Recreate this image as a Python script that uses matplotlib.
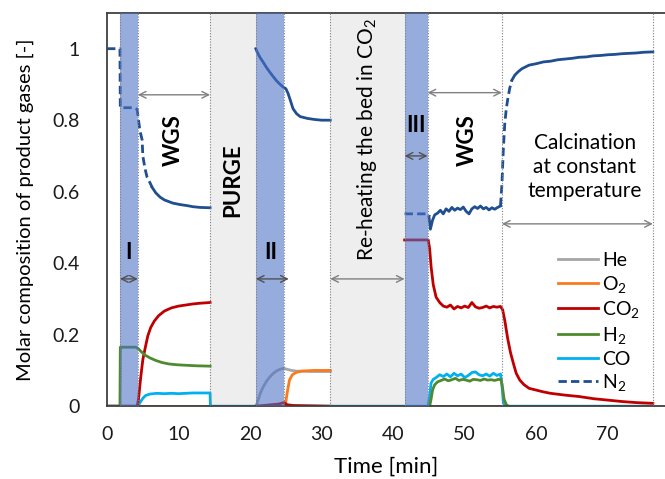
import matplotlib.pyplot as plt

plt.rcParams['font.family'] = ['Lato', 'DejaVu Sans']
plt.rcParams['mathtext.default'] = 'regular'

# Step boundaries [min]
t_I = (1.8, 4.3)
t_wgs1_end = 14.4
t_II = (20.8, 24.7)
t_reheat = 31.2
t_III = (41.6, 44.8)
t_wgs2_end = 55.2
t_calc_end = 76.3

# N2 (dashed parts = transitions, solid parts = steady WGS / purge response)
n2_d1_t = [0.0, 1.8, 1.85, 3.9, 4.2, 4.4, 4.6, 4.9, 5.0, 5.3, 5.6, 6.0, 6.3]
n2_d1_y = [1.0, 1.0, 0.835, 0.835, 0.83, 0.80, 0.77, 0.745, 0.70, 0.665, 0.64, 0.625, 0.612]
n2_s1_t = [6.3, 6.8, 7.4, 8.0, 9.2, 10.2, 11.2, 12.0, 13.0, 14.4]
n2_s1_y = [0.612, 0.597, 0.585, 0.577, 0.568, 0.564, 0.561, 0.558, 0.556, 0.555]
n2_s2_t = [20.8, 21.0, 21.4, 21.8, 22.3, 22.8, 23.3, 23.7, 24.2, 24.6, 25.0, 25.3,
           25.6, 26.0, 26.5, 27.0, 28.0, 29.0, 30.0, 31.2]
n2_s2_y = [1.0, 0.99, 0.975, 0.963, 0.947, 0.933, 0.92, 0.91, 0.90, 0.893, 0.888, 0.875,
           0.857, 0.832, 0.818, 0.81, 0.805, 0.802, 0.80, 0.80]
n2_d2_t = [41.6, 44.8, 45.1]
n2_d2_y = [0.538, 0.538, 0.53]
n2_s3_t = [45.0, 45.2, 45.5, 45.8, 46.2, 46.6, 47.0, 47.4, 47.8, 48.2, 48.6, 49.0, 49.4,
           49.8, 50.2, 50.6, 51.0, 51.4, 51.8, 52.2, 52.6, 53.0, 53.4, 53.8, 54.2, 54.6, 55.0]
n2_s3_y = [0.53, 0.495, 0.52, 0.535, 0.54, 0.548, 0.538, 0.552, 0.545, 0.556, 0.548, 0.554,
           0.55, 0.557, 0.545, 0.538, 0.552, 0.558, 0.553, 0.56, 0.552, 0.556, 0.549, 0.555,
           0.551, 0.556, 0.56]
n2_d3_t = [55.0, 55.2, 55.4, 55.6, 55.8, 56.0, 56.3, 56.6]
n2_d3_y = [0.56, 0.62, 0.72, 0.79, 0.83, 0.857, 0.89, 0.912]
n2_s4_t = [56.6, 57.0, 57.5, 58.0, 58.5, 59.0, 60.0, 61.0, 62.0, 63.0, 64.0, 65.0, 66.0,
           67.0, 68.0, 69.0, 70.0, 71.0, 72.0, 73.0, 74.0, 75.0, 76.3]
n2_s4_y = [0.912, 0.926, 0.936, 0.944, 0.949, 0.954, 0.958, 0.963, 0.965, 0.969, 0.971,
           0.973, 0.976, 0.977, 0.980, 0.981, 0.983, 0.984, 0.986, 0.987, 0.988, 0.990, 0.991]

# CO2
co2_1_t = [0.0, 4.2, 4.4, 4.7, 5.0, 5.3, 5.7, 6.1, 6.6, 7.2, 8.0, 9.0, 10.0, 11.0, 12.0,
           13.0, 14.4]
co2_1_y = [0.0, 0.0, 0.02, 0.08, 0.13, 0.16, 0.197, 0.22, 0.238, 0.253, 0.266, 0.275,
           0.28, 0.283, 0.286, 0.288, 0.29]
co2_2_t = [20.8, 24.0, 24.7, 25.2, 26.0, 31.2]
co2_2_y = [0.0, 0.006, 0.01, 0.004, 0.002, 0.0]
co2_3_t = [41.6, 44.9, 45.1, 45.3, 45.6, 46.0, 46.5, 47.0, 47.5, 48.0, 48.5, 49.0, 49.5,
           50.0, 50.5, 51.0, 51.5, 52.0, 52.5, 53.0, 53.5, 54.0, 54.5, 55.0, 55.3, 55.6,
           56.0, 56.4, 56.8, 57.2, 57.7, 58.3, 59.0, 60.0, 61.0, 62.0, 64.0, 66.0, 68.0,
           70.0, 72.0, 74.0, 76.3]
co2_3_y = [0.465, 0.465, 0.44, 0.39, 0.34, 0.305, 0.29, 0.28, 0.277, 0.283, 0.272, 0.279,
           0.275, 0.28, 0.276, 0.29, 0.278, 0.274, 0.276, 0.28, 0.275, 0.279, 0.277, 0.279,
           0.27, 0.24, 0.19, 0.15, 0.12, 0.092, 0.073, 0.06, 0.05, 0.045, 0.04, 0.036,
           0.031, 0.027, 0.021, 0.017, 0.013, 0.01, 0.008]

# H2
h2_1_t = [0.0, 1.8, 1.85, 4.0, 4.3, 4.8, 5.3, 6.0, 6.8, 7.7, 8.7, 9.7, 10.5, 11.5, 12.5,
          14.4]
h2_1_y = [0.0, 0.0, 0.165, 0.165, 0.162, 0.152, 0.143, 0.135, 0.128, 0.122, 0.118, 0.116,
          0.115, 0.114, 0.113, 0.112]
h2_2_t = [45.1, 45.3, 45.5, 45.8, 46.2, 46.7, 47.2, 47.7, 48.2, 48.7, 49.2, 49.7, 50.2,
          50.7, 51.2, 51.7, 52.2, 52.7, 53.2, 53.7, 54.2, 54.7, 55.1, 55.3, 55.5, 55.8, 56.1]
h2_2_y = [0.0, 0.02, 0.045, 0.06, 0.068, 0.072, 0.076, 0.071, 0.074, 0.078, 0.072, 0.075,
          0.073, 0.07, 0.075, 0.074, 0.072, 0.076, 0.073, 0.074, 0.072, 0.075, 0.074, 0.05,
          0.02, 0.005, 0.0]

# CO
co_t = [0.0, 4.3, 4.6, 5.0, 5.4, 6.0, 7.0, 8.0, 9.0, 10.0, 11.0, 12.0, 13.0, 14.4, 14.45,
        44.9, 45.1, 45.3, 45.6, 46.0, 46.5, 47.0, 47.5, 48.0, 48.5, 49.0, 49.5, 50.0, 50.5,
        51.0, 51.5, 52.0, 52.5, 53.0, 53.5, 54.0, 54.5, 55.0, 55.2, 55.4, 55.6, 76.3]
co_y = [0.0, 0.0, 0.01, 0.022, 0.03, 0.034, 0.036, 0.035, 0.036, 0.035, 0.036, 0.037,
        0.037, 0.037, 0.0, 0.0, 0.03, 0.065, 0.075, 0.08, 0.088, 0.083, 0.09, 0.082, 0.092,
        0.085, 0.09, 0.08, 0.086, 0.094, 0.096, 0.088, 0.085, 0.09, 0.084, 0.092, 0.086,
        0.09, 0.06, 0.01, 0.0, 0.0]

# O2
o2_1_t = [4.3, 14.4]
o2_1_y = [0.0, 0.0]
o2_2_t = [24.9, 25.2, 25.5, 25.9, 26.5, 27.2, 28.0, 29.0, 30.0, 31.2]
o2_2_y = [0.0, 0.04, 0.073, 0.088, 0.095, 0.098, 0.099, 0.1, 0.1, 0.1]
o2_3_t = [45.1, 55.2]
o2_3_y = [0.0, 0.0]

# He
he_t = [20.8, 21.0, 21.4, 21.8, 22.3, 22.8, 23.3, 23.8, 24.3, 24.7, 25.2, 25.8, 26.5,
        27.5, 28.5, 29.5, 31.2]
he_y = [0.0, 0.01, 0.035, 0.053, 0.07, 0.083, 0.093, 0.1, 0.104, 0.106, 0.103, 0.1,
        0.098, 0.098, 0.097, 0.097, 0.097]

c_n2 = '#1f4e91'
c_co2 = '#c00000'
c_h2 = '#4f8a2e'
c_co = '#00b0f0'
c_o2 = '#f97a1f'
c_he = '#a6a6a6'
c_shade = '#4b71c5'

fig = plt.figure(figsize=(6.65, 4.79), dpi=100)
ax = fig.add_axes([0.161, 0.152, 0.839, 0.821])

# step backgrounds
ax.axvspan(t_wgs1_end, t_II[0], color='#eeeeee', zorder=0, lw=0)
ax.axvspan(t_reheat, t_III[0], color='#eeeeee', zorder=0, lw=0)
for a, b in [t_I, t_II, t_III]:
    ax.axvspan(a, b, color=c_shade, alpha=0.58, zorder=3, lw=0)
for x in [t_I[0], t_I[1], t_wgs1_end, t_II[0], t_II[1], t_reheat, t_III[0], t_III[1],
          t_wgs2_end, t_calc_end]:
    ax.axvline(x, color='#7f7f7f', ls=(0, (1, 1.5)), lw=0.8, zorder=4)

lw = 2.0
ax.plot(he_t, he_y, color=c_he, lw=lw, label='He', zorder=2)
ax.plot(co_t, co_y, color=c_co, lw=lw, zorder=2)
ax.plot(o2_1_t, o2_1_y, color=c_o2, lw=lw, label='O$_2$', zorder=2)
ax.plot(o2_2_t, o2_2_y, color=c_o2, lw=lw, zorder=2)
ax.plot(o2_3_t, o2_3_y, color=c_o2, lw=lw, zorder=2)
ax.plot(co2_1_t, co2_1_y, color=c_co2, lw=lw, label='CO$_2$', zorder=2)
ax.plot(co2_2_t, co2_2_y, color=c_co2, lw=lw, zorder=2)
ax.plot(co2_3_t, co2_3_y, color=c_co2, lw=lw, zorder=2)
ax.plot(h2_1_t, h2_1_y, color=c_h2, lw=lw, label='H$_2$', zorder=2)
ax.plot(h2_2_t, h2_2_y, color=c_h2, lw=lw, zorder=2)
ax.plot([], [], color=c_co, lw=lw, label='CO')
ax.plot(n2_d1_t, n2_d1_y, color=c_n2, lw=lw, ls=(0, (3, 1.5)), label='N$_2$', zorder=2)
ax.plot(n2_d2_t, n2_d2_y, color=c_n2, lw=lw, ls=(0, (3, 1.5)), zorder=2)
ax.plot(n2_d3_t, n2_d3_y, color=c_n2, lw=lw, ls=(0, (3, 1.5)), zorder=2)
for tt, yy in [(n2_s1_t, n2_s1_y), (n2_s2_t, n2_s2_y), (n2_s3_t, n2_s3_y), (n2_s4_t, n2_s4_y)]:
    ax.plot(tt, yy, color=c_n2, lw=lw, zorder=2)

# double arrows marking the steps
arrows = [(t_I[0], t_I[1], 0.356, '#505050'),
          (t_I[1], t_wgs1_end, 0.871, '#808080'),
          (t_II[0], 25.4, 0.356, '#505050'),
          (t_reheat, t_III[0], 0.356, '#808080'),
          (t_III[0], t_III[1], 0.70, '#505050'),
          (t_III[1], t_wgs2_end, 0.877, '#808080'),
          (t_wgs2_end, t_calc_end, 0.51, '#808080')]
for x1, x2, y, c in arrows:
    ax.annotate('', xy=(x2, y), xytext=(x1, y), zorder=5,
                arrowprops=dict(arrowstyle='<->', color=c, lw=1.0, shrinkA=0, shrinkB=0,
                                mutation_scale=12))

bold = dict(fontsize=16, fontweight='bold', ha='center', va='center', zorder=6)
ax.text(3.05, 0.43, 'I', **bold)
ax.text(22.9, 0.43, 'II', **bold)
ax.text(43.2, 0.785, 'III', **bold)
ax.text(9.2, 0.745, 'WGS', rotation=90, **bold)
ax.text(50.3, 0.745, 'WGS', rotation=90, **bold)
ax.text(17.6, 0.633, 'PURGE', rotation=90, **bold)
ax.text(36.4, 0.745, 'Re-heating the bed in CO$_2$', rotation=90, fontsize=15,
        ha='center', va='center', zorder=6)
ax.text(66.8, 0.67, 'Calcination\nat constant\ntemperature', fontsize=15,
        ha='center', va='center', linespacing=1.25, zorder=6)

ax.set_xlim(0, 78)
ax.set_ylim(0, 1.1)
ax.set_xticks([0, 10, 20, 30, 40, 50, 60, 70])
ax.set_yticks([0, 0.2, 0.4, 0.6, 0.8, 1.0])
ax.set_yticklabels(['0', '0.2', '0.4', '0.6', '0.8', '1'])
ax.tick_params(length=0, labelsize=14, colors='#1a1a1a')
ax.tick_params(axis='y', pad=20)
ax.tick_params(axis='x', pad=14)
ax.set_xlabel('Time [min]', fontsize=16, labelpad=10)
ax.set_ylabel('Molar composition of product gases [-]', fontsize=14.5, labelpad=13)
for s in ['left', 'top', 'bottom']:
    ax.spines[s].set_color('#404040')
    ax.spines[s].set_linewidth(1.3)
ax.spines['right'].set_visible(False)

leg = ax.legend(loc='upper left', bbox_to_anchor=(0.795, 0.412), frameon=False,
                fontsize=14, handlelength=2.05, handletextpad=0.2, labelspacing=0.24,
                borderaxespad=0)

fig.savefig('out.png', dpi=100)
